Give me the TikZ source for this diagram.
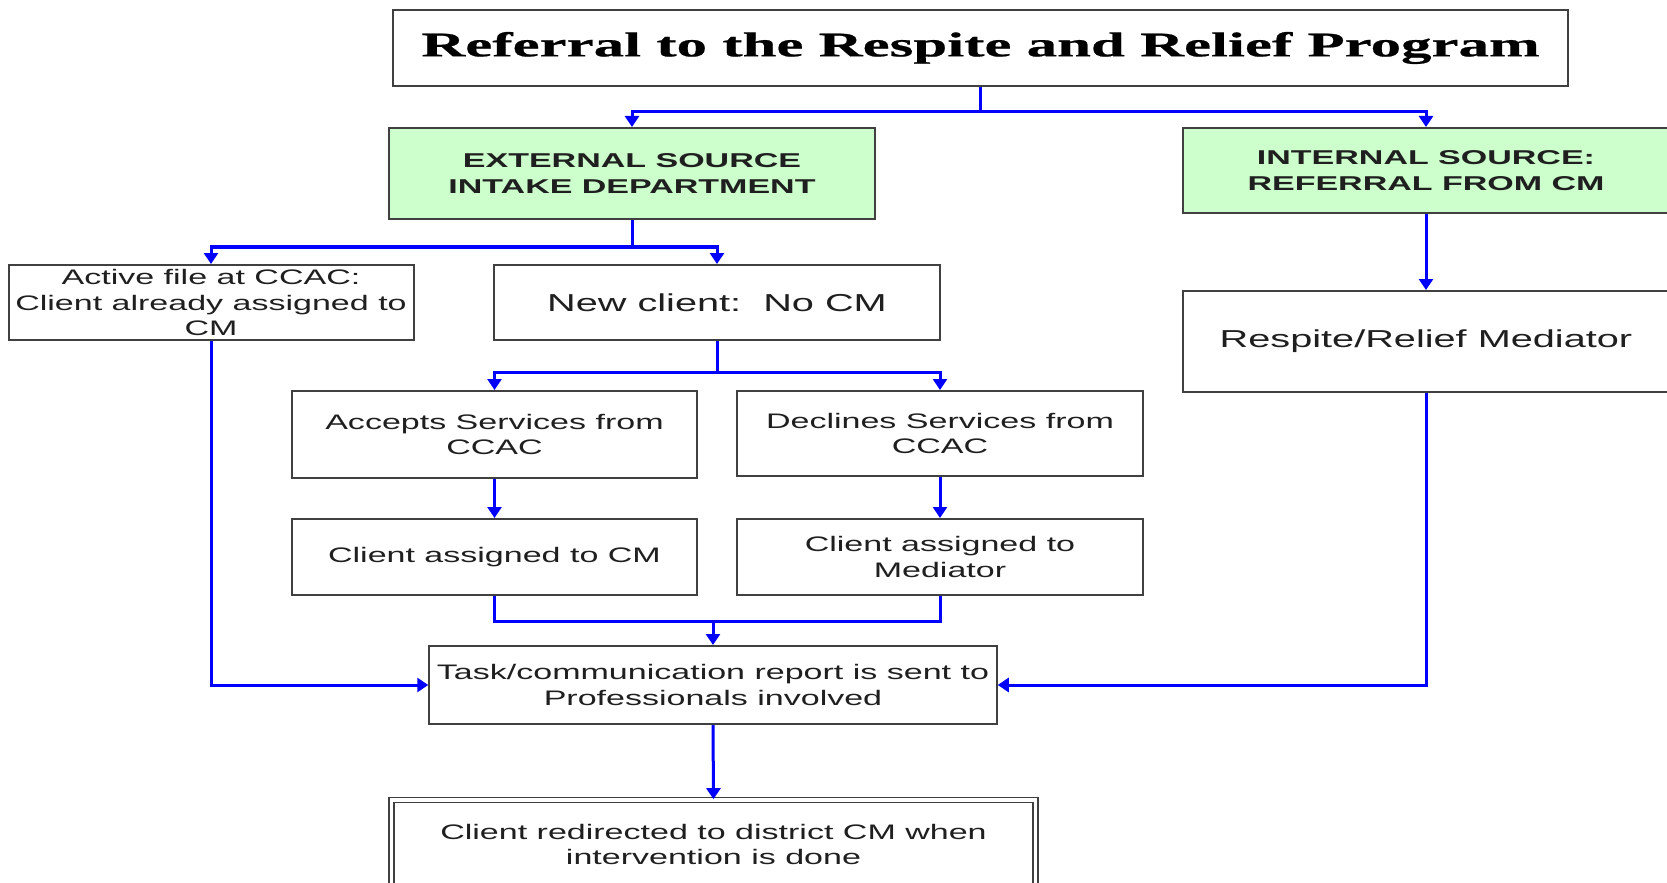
\documentclass[tikz,border=0pt]{standalone}
\usepackage{fontspec}
\setmainfont{Liberation Sans}
\newfontfamily\bodyfont[FakeStretch=1.62]{Liberation Sans}
\newfontfamily\greenfont[FakeStretch=1.7]{Liberation Sans Bold}
\newfontfamily\titlefont[FakeStretch=1.76,FakeBold=0.6]{Liberation Serif Bold}
\usetikzlibrary{arrows.meta}
\definecolor{boxgreen}{HTML}{CCFFCC}
\definecolor{linkblue}{HTML}{0000FF}
\definecolor{border}{HTML}{404040}
\begin{document}
\begin{tikzpicture}[x=0.5pt,y=-0.5pt,
  box/.style={draw=border, line width=1pt, inner sep=0pt, align=center, text=black!88,
    font=\bodyfont\fontsize{10.5pt}{12.75pt}\selectfont},
  bigbox/.style={box, font=\bodyfont\fontsize{12.25pt}{14.7pt}\selectfont},
  greenbox/.style={box, fill=boxgreen, font=\greenfont\fontsize{10pt}{13.3pt}\selectfont},
  titlebox/.style={box, text=black, font=\titlefont\fontsize{17.3pt}{20pt}\selectfont},
  finalbox/.style={draw=border, inner sep=0pt, text=black!88, line width=0.8pt, double=white, double distance=1.6pt,
    font=\bodyfont\fontsize{10.5pt}{12.75pt}\selectfont},
  link/.style={draw=linkblue, line width=1.5pt},
  arr/.style={link, -{Triangle[width=7pt,length=5.5pt]}},
]
\useasboundingbox (0,0) rectangle (1667,883);
\clip (0,0) rectangle (1667,883);
\fill[white] (0,0) rectangle (1667,883);

\node[titlebox, minimum width=587.5pt, minimum height=38pt] (title) at (980.5,48) {Referral to the Respite and Relief Program};
\node[greenbox, minimum width=243pt, minimum height=45.5pt] (ext) at (632,173.5) {EXTERNAL SOURCE\\INTAKE DEPARTMENT};
\node[greenbox, minimum width=243pt, minimum height=42.5pt] (int) at (1426,170.5) {INTERNAL SOURCE:\\REFERRAL FROM CM};
\node[box, minimum width=202.5pt, minimum height=37.5pt] (act) at (211,302.5) {Active file at CCAC:\\Client already assigned to\\CM};
\node[bigbox, minimum width=223pt, minimum height=37.5pt] (newc) at (717,302.5) {New client:\ \ No CM};
\node[bigbox, minimum width=243pt, minimum height=50.5pt] (med) at (1426,341.5) {Respite/Relief Mediator};
\node[box, minimum width=202.5pt, minimum height=43.5pt] (acc) at (494.5,434.5) {Accepts Services from\\CCAC};
\node[box, minimum width=203pt, minimum height=42.5pt] (dec) at (940,433.5) {Declines Services from\\CCAC};
\node[box, minimum width=202.5pt, minimum height=38pt] (ccm) at (494.5,557) {Client assigned to CM};
\node[box, minimum width=203pt, minimum height=38pt] (cmed) at (940,557) {Client assigned to\\Mediator};
\node[box, minimum width=283.75pt, minimum height=39pt] (task) at (713,685) {Task/communication report is sent to\\Professionals involved};
\node[finalbox, minimum width=322pt, minimum height=47pt] (final) at (713.5,847)
  {\raisebox{2.2pt}{\begin{tabular}{@{}c@{}}Client redirected to district CM when\\intervention is done\end{tabular}}};

\coordinate (y1) at (0,112);
\coordinate (y2) at (0,247);
\coordinate (y3) at (0,372);
\coordinate (y4) at (0,621);

\draw[link] (title.south) -- (title.south |- y1);
\draw[arr] (title.south |- y1) -| (ext.north);
\draw[arr] (title.south |- y1) -| (int.north);

\draw[link] (ext.south) -- (ext.south |- y2);
\draw[arr] (ext.south |- y2) -| (act.north);
\draw[arr] (ext.south |- y2) -| (newc.north);

\draw[link] (newc.south) -- (newc.south |- y3);
\draw[arr] (newc.south |- y3) -| (acc.north);
\draw[arr] (newc.south |- y3) -| (dec.north);

\draw[arr] (acc.south) -- (ccm.north);
\draw[arr] (dec.south) -- (cmed.north);

\draw[link] (ccm.south) |- (cmed.south |- y4) -- (cmed.south);
\draw[arr] (task.north |- y4) -- (task.north);

\draw[arr] (int.south) -- (med.north);
\draw[arr] (act.south) |- (task.west);
\draw[arr] (med.south) |- (task.east);
\draw[arr] (task.south) -- (final.north);
\end{tikzpicture}
\end{document}
